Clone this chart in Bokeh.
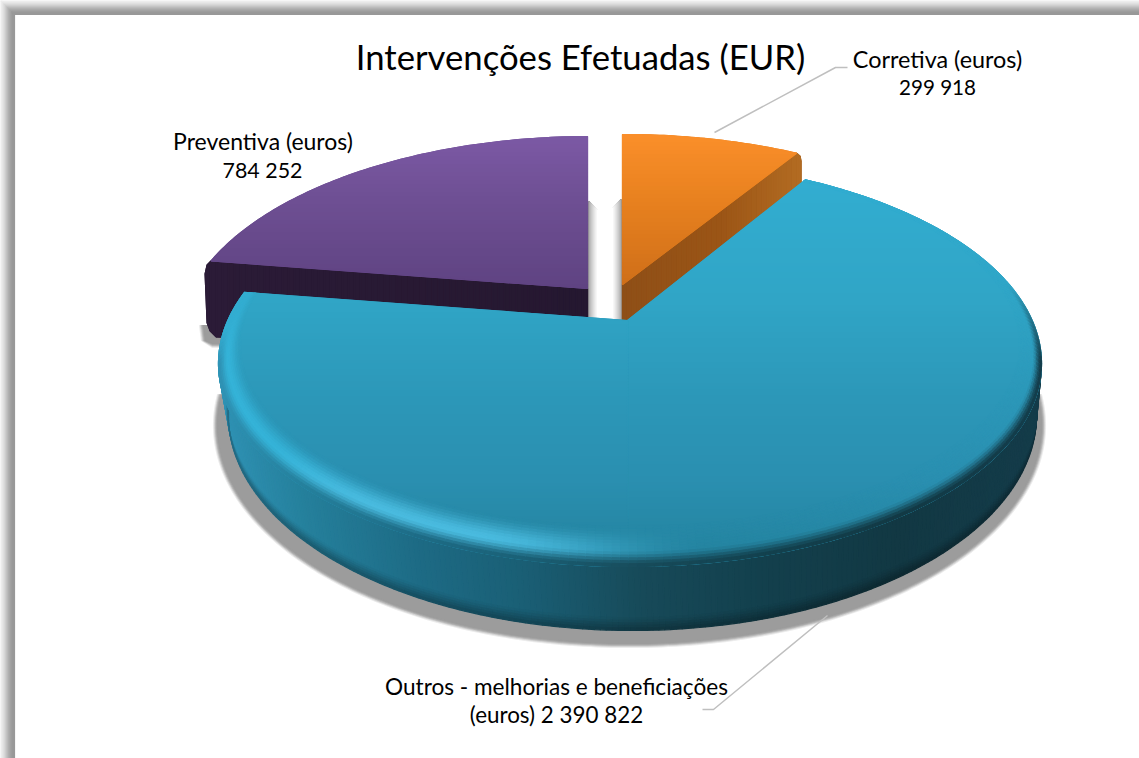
import numpy as np
from bokeh.plotting import figure
from bokeh.models import Range1d
from bokeh.core.properties import value
from bokeh.embed import file_html
from bokeh.resources import INLINE

# ---- data ----
categories = ["Corretiva (euros)", "Outros - melhorias e beneficiações (euros)", "Preventiva (euros)"]
values = [299918, 2390822, 784252]
title_text = "Intervenções Efetuadas (EUR)"
label_lines = [["Corretiva (euros)", "299 918"],
               ["Outros - melhorias e beneficiações", "(euros) 2 390 822"],
               ["Preventiva (euros)", "784 252"]]

# ---- helpers ----
def rgb(h):
    return np.array([int(h[i:i+2], 16) for i in (1, 3, 5)], float)
def tohex(c):
    return "#%02x%02x%02x" % tuple(int(round(max(0, min(255, v)))) for v in c)
def ramp(stops, t):
    ps = [s[0] for s in stops]
    cs = np.array([rgb(s[1]) for s in stops])
    return np.array([np.interp(t, ps, cs[:, i]) for i in range(3)])
def mix(a, b, t):
    return a + (b - a) * t
def smooth(t):
    t = np.clip(t, 0, 1)
    return t * t * (3 - 2 * t)
def clip_half(poly, a, b, c):
    out = []
    n = len(poly)
    for i in range(n):
        p, q = poly[i], poly[(i + 1) % n]
        fp, fq = a*p[0]+b*p[1]+c, a*q[0]+b*q[1]+c
        if fp >= 0:
            out.append(p)
        if (fp >= 0) != (fq >= 0):
            t = fp / (fp - fq)
            out.append((p[0] + t*(q[0]-p[0]), p[1] + t*(q[1]-p[1])))
    return out
def ray_ellipse(ap, d, e):
    cx, cy, rx, ry = e
    px, py = (ap[0]-cx)/rx, (ap[1]-cy)/ry
    dx, dy = d[0]/rx, d[1]/ry
    A, B, C = dx*dx+dy*dy, 2*(px*dx+py*dy), px*px+py*py-1
    t = (-B + np.sqrt(B*B-4*A*C)) / (2*A)
    return ap[0]+t*d[0], ap[1]+t*d[1]
def ell_phi(pt, e):
    return np.arctan2((pt[1]-e[1])/e[3], (pt[0]-e[0])/e[2])
def ell_pts(e, p0, p1, n):
    ph = np.linspace(p0, p1, n)
    return [(e[0]+e[2]*np.cos(a), e[1]+e[3]*np.sin(a)) for a in ph]

XS, YS, CS = [], [], []
def add(poly, col):
    if len(poly) < 3:
        return
    XS.append([p[0] for p in poly]); YS.append([p[1] for p in poly]); CS.append(col)
def bands(poly, stops, step=4):
    ys = [p[1] for p in poly]
    add(poly, tohex(ramp(stops, (min(ys)+max(ys))/2)))
    y = np.floor(min(ys))
    while y < max(ys):
        q = clip_half(poly, 0, 1, -y)
        if q:
            q = clip_half(q, 0, -1, y+step)
        add(q, tohex(ramp(stops, y+step/2)))
        y += step
def bands_x(poly, stops, step=4):
    xs = [p[0] for p in poly]
    add(poly, tohex(ramp(stops, (min(xs)+max(xs))/2)))
    x = np.floor(min(xs))
    while x < max(xs):
        q = clip_half(poly, 1, 0, -x)
        if q:
            q = clip_half(q, -1, 0, x+step)
        add(q, tohex(ramp(stops, x+step/2)))
        x += step

# ---- slice geometry ----
total = sum(values)
frac = [v/total for v in values]
th_a = 2*np.pi*frac[0]                 # orange / teal boundary, clockwise from top
th_b = 2*np.pi*(frac[0]+frac[1])       # teal / purple boundary
def direction(th, aspect=2.1):
    return (aspect*np.sin(th), -np.cos(th))

E_T = (629.5, 363.0, 411.5, 203.0)     # teal top ellipse
E_I = (629.5, 344.0, 389.5, 182.0)     # inner bevel ellipse
E_B = (632.0, 415.0, 404.0, 215.0)     # teal bottom ellipse
E_O = (623.5, 337.0, 411.5, 203.0)     # orange
E_P = (590.0, 339.0, 411.5, 203.0)     # purple
AP_T, AP_O, AP_P = (627.0, 320.0), (622.0, 284.0), (587.0, 288.0)

WALL = [(218, "#2f92b4"), (300, "#25809c"), (420, "#1d6a84"), (520, "#1a5f75"),
        (640, "#174a59"), (760, "#13404d"), (900, "#123843"), (1041, "#143c4a")]
TEAL = [(165, "#32aed2"), (300, "#30a5c6"), (400, "#2c97b8"), (480, "#2a8fb0"),
        (540, "#2586a3"), (570, "#23809c")]

# ---- frame ----
for i in range(14):
    c = tohex(mix(rgb("#f2f2f2"), rgb("#989898"), smooth((i+1)/14)))
    add([(i, i), (1139, i), (1139, i+1), (i, i+1)], c)
    add([(i, i), (i+1, i), (i+1, 758), (i, 758)], c)

# ---- shadows ----
for d, g in [(3, "#ececec"), (2, "#d4d4d4"), (1, "#b8b8b8"), (0, "#a6a6a6"), (-1, "#9c9c9c")]:
    e = (629.0, 425.0, 413.0+d, 219.0+d)
    add(ell_pts(e, np.radians(-8), np.radians(188), 200), g)
    add([(202-d, 325), (238, 325), (238, 344+d), (212, 344+d), (204-d, 340)], g)
for i in range(10):
    g = tohex(mix(rgb("#9a9a9a"), rgb("#ffffff"), (i/9)**0.7))
    add([(588+i, 201+i), (589+i, 201+i), (589+i, 319), (588+i, 319)], g)
    add([(620-i, 199+i), (621-i, 199+i), (621-i, 319), (620-i, 319)], g)

# ---- purple ----
P_end = ray_ellipse(AP_P, direction(th_b), E_P)
P_top = ray_ellipse(AP_P, direction(0.0), E_P)
px, py = P_end
bands_x([AP_P, P_end, (px-4, py+4), (px-6, py+13), (px-4, py+62), (px-1, py+70), (px+5, py+76),
         (AP_P[0], 348)],
        [(200, "#2b1b37"), (587, "#251830")], step=6)
p1 = ell_phi(P_end, E_P); p2 = ell_phi(P_top, E_P)
if p2 < p1:
    p2 += 2*np.pi
bands([AP_P] + ell_pts(E_P, p1, p2, 80),
      [(135, "#7c59a5"), (200, "#6e4f93"), (288, "#5f4382")])

# ---- orange ----
O_end = ray_ellipse(AP_O, direction(th_a, 2.2), E_O)
O_top = ray_ellipse(AP_O, direction(0.0), E_O)
ox, oy = O_end
bands_x([AP_O, O_end, (ox+3.5, oy+3), (ox+4.5, oy+8), (ox+4.5, oy+34), (628, 335), (622, 335)],
        [(622, "#8e4f17"), (720, "#9b5516"), (802, "#b36c22")], step=5)
p1 = ell_phi(O_top, E_O); p2 = ell_phi(O_end, E_O)
bands([AP_O] + ell_pts(E_O, p1, p2, 40),
      [(133, "#fb8f2a"), (200, "#e8811f"), (284, "#cf6f19")])

# ---- teal wall ----
def T(a): return (E_T[0]+E_T[2]*np.cos(a), E_T[1]+E_T[3]*np.sin(a))
def B(a): return (E_B[0]+E_B[2]*np.cos(a), E_B[1]+E_B[3]*np.sin(a))
def L(a, t):
    p, q = T(a), B(a)
    return (p[0]+(q[0]-p[0])*t, p[1]+(q[1]-p[1])*t)
levels = [0, .80, .84, .88, .92, .96, 1.0]
shades = [1.0, .97, .92, .86, .80, .74]
ph = np.radians(np.linspace(-1, 181, 220))
for a0, a1 in zip(ph[:-1], ph[1:]):
    xm = E_T[0] + E_T[2]*np.cos((a0+a1)/2)
    base = ramp(WALL, xm)
    for j in range(6):
        add([L(a0, levels[j]), L(a1, levels[j]), L(a1, levels[j+1]), L(a0, levels[j+1])],
            tohex(base*shades[j]))

# ---- teal top face: two y-monotone halves split below the apex ----
T_a = ray_ellipse(AP_T, direction(th_a), E_T)
T_b = ray_ellipse(AP_T, direction(th_b), E_T)
pa = ell_phi(T_a, E_T); pb = ell_phi(T_b, E_T)
if pb < pa:
    pb += 2*np.pi
split = np.arccos((AP_T[0]-E_T[0])/E_T[2])
bands([AP_T] + ell_pts(E_T, pa, split, 130), TEAL, step=3)
bands([AP_T] + ell_pts(E_T, split, pb, 130), TEAL, step=3)

# bevel ring, clipped to the slice's two cut lines
def clip_cuts(q):
    lx, ly = T_b[0]-AP_T[0], T_b[1]-AP_T[1]
    rx, ry = T_a[0]-AP_T[0], T_a[1]-AP_T[1]
    ax, ay = AP_T
    xc = sum(p[0] for p in q)/len(q)
    if xc < ax:
        return clip_half(q, ly, -lx, -ly*ax+lx*ay)
    return clip_half(q, -ry, rx, ry*ax-rx*ay)
NU = 14
phis = np.linspace(pa, pb, 220)
us = np.linspace(0, 1, NU+1)
def pt(a, u):
    i = (E_I[0]+E_I[2]*np.cos(a), E_I[1]+E_I[3]*np.sin(a))
    o = (E_T[0]+E_T[2]*np.cos(a), E_T[1]+E_T[3]*np.sin(a))
    return (i[0]+(o[0]-i[0])*u, i[1]+(o[1]-i[1])*u)
PK = 0.6
for a0, a1 in zip(phis[:-1], phis[1:]):
    am = (a0+a1)/2
    deg = np.degrees(am)
    xm = E_T[0]+E_T[2]*np.cos(am)
    H = 1-smooth((xm-470)/240)
    if deg > 180:
        H *= 1-0.45*smooth((deg-180)/20)
    if deg < 0:
        W = max(0, 1+deg/22)
    elif deg > 180:
        W = max(0, 1-(deg-180)/10)
    else:
        W = 1
    for u0, u1 in zip(us[:-1], us[1:]):
        um = (u0+u1)/2
        y = pt(am, um)[1]
        base = ramp(TEAL, y)
        hl = mix(rgb("#35b3d8"), rgb("#4abbdf"), smooth((y-440)/70))
        h = mix(base, hl, H)
        if um < PK:
            c = mix(base, h, smooth(um/PK))
        else:
            c = mix(h, ramp(WALL, xm), smooth((um-PK)/(1-PK))*W)
        q = clip_cuts([pt(a0, u0), pt(a1, u0), pt(a1, u1), pt(a0, u1)])
        add(q, tohex(c))

# ---- figure ----
p = figure(width=1139, height=758, x_range=Range1d(0, 1139), y_range=Range1d(758, 0),
           output_backend="svg", toolbar_location=None, min_border=0,
           background_fill_color="#ffffff", border_fill_color="#ffffff")
p.axis.visible = False
p.grid.visible = False
p.outline_line_color = None
p.patches(XS, YS, fill_color=CS, line_color=CS, line_width=1.2)

# leader lines
p.line([714, 835, 847], [132, 67, 67], line_color="#bfbfbf", line_width=1.5)
p.line([827, 713, 702], [615, 709, 709], line_color="#bfbfbf", line_width=1.5)

# texts
FONT = value("Lato")
def txt(s, x, base, size):
    p.text([x], [base-0.38*size], text=[s], text_font=FONT, text_font_size=f"{size}px",
           text_align="center", text_baseline="alphabetic", text_color="#000000")
txt(title_text, 580, 69, 34.7)
txt(label_lines[0][0], 937, 67, 23.4)
txt(label_lines[0][1], 937, 94.5, 20.6)
txt(label_lines[2][0], 262.5, 149.5, 23)
txt(label_lines[2][1], 262, 178, 21.4)
txt(label_lines[1][0], 556, 695, 22.6)
txt(label_lines[1][1], 556, 723, 22.4)

open("out.html", "w").write(file_html(p, INLINE))
